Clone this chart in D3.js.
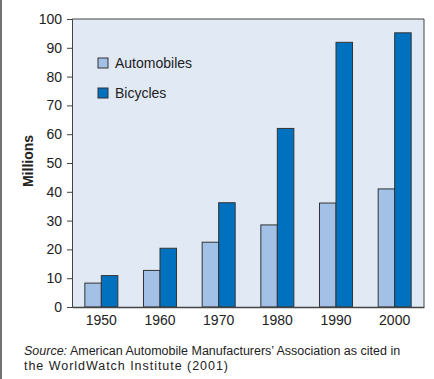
<!DOCTYPE html>
<html>
<head>
<meta charset="utf-8">
<script src="https://cdn.jsdelivr.net/npm/d3@7"></script>
<style>
  html, body { margin: 0; padding: 0; background: #fff; }
  svg { display: block; font-family: "Liberation Sans", Arial, sans-serif; }
</style>
</head>
<body>
<svg id="chart" width="434" height="379"></svg>
<script>
// Production in millions, by decade
const years = ["1950", "1960", "1970", "1980", "1990", "2000"];
const automobiles = [8.3, 12.7, 22.5, 28.5, 36.1, 41.0];
const bicycles = [10.9, 20.4, 36.2, 62.0, 91.9, 95.2];
const seriesNames = ["Automobiles", "Bicycles"];
const seriesColors = ["#a3c1e6", "#0071bf"];
const yTicks = [0, 10, 20, 30, 40, 50, 60, 70, 80, 90, 100];

const svg = d3.select("#chart");
const margin = { left: 72, top: 19, right: 10, bottom: 72 };
const W = 434, H = 379;
const plotW = W - margin.left - margin.right;
const plotH = H - margin.top - margin.bottom;
const FONT = "Liberation Sans, Arial, sans-serif";

// Left frame rule
svg.append("line")
  .attr("x1", 1).attr("x2", 1).attr("y1", 0).attr("y2", H)
  .attr("stroke", "#444").attr("stroke-width", 1.5);

const g = svg.append("g").attr("transform", `translate(${margin.left},${margin.top})`);

const x = d3.scaleBand().domain(years).range([0, plotW]).paddingInner(0).paddingOuter(0);
const x1 = d3.scaleBand().domain(seriesNames).range([0, 33]);
const y = d3.scaleLinear().domain([0, 100]).range([plotH, 0]);

// Plot background
g.append("rect")
  .attr("width", plotW).attr("height", plotH)
  .attr("fill", "#e1e9f5");

// Bars
const rows = years.map((yr, i) => ({ year: yr, values: [automobiles[i], bicycles[i]] }));
const groups = g.selectAll("g.grp").data(rows).join("g")
  .attr("class", "grp")
  .attr("transform", d => `translate(${x(d.year) + (x.bandwidth() - 33) / 2},0)`);
groups.selectAll("rect").data(d => d.values.map((v, k) => ({ v, k }))).join("rect")
  .attr("x", d => x1(seriesNames[d.k]))
  .attr("y", d => y(d.v))
  .attr("width", x1.bandwidth())
  .attr("height", d => y(0) - y(d.v))
  .attr("fill", d => seriesColors[d.k])
  .attr("stroke", "#333")
  .attr("stroke-width", 1);

// Top and right frame of the plot
g.append("path")
  .attr("d", `M0,0H${plotW}V${plotH}`)
  .attr("fill", "none").attr("stroke", "#444").attr("stroke-width", 1);

// Y axis
const yAxis = g.append("g")
  .call(d3.axisLeft(y).tickValues(yTicks).tickSize(5).tickPadding(5));
yAxis.attr("font-size", 14).attr("font-family", FONT);
yAxis.select(".domain").attr("stroke", "#444");
yAxis.selectAll(".tick line").attr("stroke", "#444");
yAxis.selectAll("text").attr("fill", "#222");

// X axis
const xAxis = g.append("g").attr("transform", `translate(0,${plotH})`)
  .call(d3.axisBottom(x).tickSize(0).tickPadding(8));
xAxis.attr("font-size", 14).attr("font-family", FONT);
xAxis.select(".domain").attr("stroke", "#444").attr("stroke-width", 1.5);
xAxis.selectAll("text").attr("fill", "#222");

// Y axis title
svg.append("text")
  .attr("transform", `translate(33,${margin.top + plotH / 2 - 2}) rotate(-90)`)
  .attr("text-anchor", "middle")
  .attr("font-size", 14).attr("font-weight", "bold").attr("fill", "#222")
  .text("Millions");

// Legend
const legend = svg.append("g").attr("transform", "translate(98,58)");
seriesNames.forEach((name, k) => {
  const row = legend.append("g").attr("transform", `translate(0,${k * 30})`);
  row.append("rect").attr("width", 10).attr("height", 10)
    .attr("fill", seriesColors[k]).attr("stroke", "#333").attr("stroke-width", 1);
  row.append("text").attr("x", 17).attr("y", 10)
    .attr("font-size", 14).attr("fill", "#222").text(name);
});

// Source note
const note = svg.append("text").attr("font-size", 12.5).attr("fill", "#222");
note.append("tspan").attr("x", 24).attr("y", 355)
  .attr("font-style", "italic").text("Source:");
note.append("tspan").text(" American Automobile Manufacturers\u2019 Association as cited in");
svg.append("text").attr("x", 24).attr("y", 370)
  .attr("font-size", 12.5).attr("fill", "#222")
  .attr("textLength", 204).attr("lengthAdjust", "spacing")
  .text("the WorldWatch Institute (2001)");
</script>
</body>
</html>
